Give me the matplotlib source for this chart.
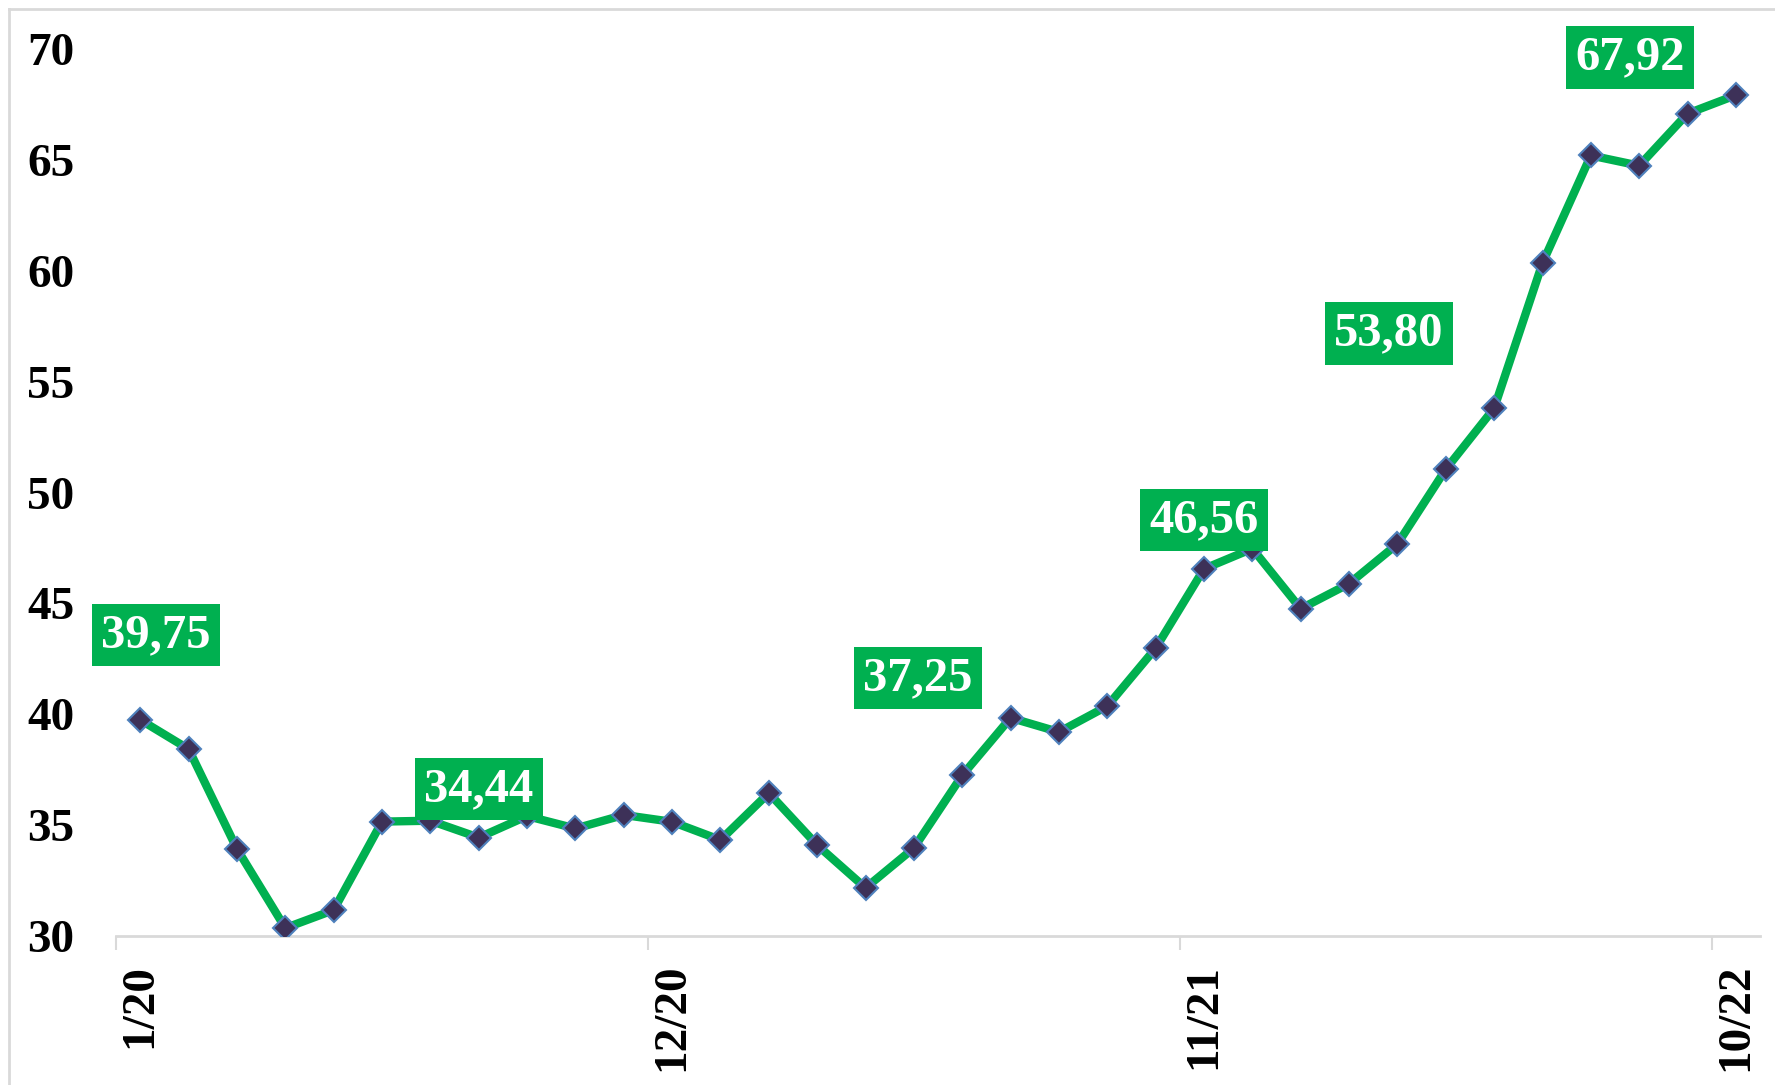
import matplotlib.pyplot as plt
from matplotlib.lines import Line2D

# Monthly values, 1/20 .. 10/22
values = [39.75, 38.43, 33.93, 30.36, 31.17, 35.16, 35.20, 34.44, 35.41, 34.85,
          35.46, 35.15, 34.33, 36.45, 34.10, 32.17, 33.97, 37.25, 39.84, 39.20,
          40.37, 42.98, 46.56, 47.47, 44.76, 45.89, 47.68, 51.05, 53.80, 60.35,
          65.20, 64.74, 67.09, 67.92]
tick_labels = ["1/20", "12/20", "11/21", "10/22"]
tick_idx = [0, 11, 22, 33]

# Labelled points: index -> label text
label_idx = [0, 7, 17, 22, 28, 33]
label_text = ["39,75", "34,44", "37,25", "46,56", "53,80", "67,92"]
label_offset = [(11, 61), (0, 35), (-32, 70), (0, 35), (-76, 54), (-76, 27)]

green = "#00B050"
grey = "#D9D9D9"
serif = ["Liberation Serif", "DejaVu Serif"]

fig = plt.figure(figsize=(17.75, 10.85), dpi=100)
ax = fig.add_axes([0.0654, 0.1373, 0.9262, 0.8175])

x = list(range(len(values)))
ax.plot(x, values, color=green, lw=6, marker="D", ms=12,
        markerfacecolor="#3D3158", markeredgecolor="#4F81BD", markeredgewidth=1.5,
        zorder=3)

for i, txt, off in zip(label_idx, label_text, label_offset):
    ax.annotate(txt, xy=(i, values[i]), xytext=off, textcoords="offset points",
                ha="center", va="center", color="white", fontsize=35,
                fontweight="bold", family=serif, zorder=5,
                bbox=dict(boxstyle="square,pad=0.19", fc=green, ec="none"))

ax.set_xlim(-0.5, len(values) - 0.5)
ax.set_ylim(30, 70)
ax.set_yticks(range(30, 71, 5))

# tick marks between categories, labels on categories
ax.set_xticks([i - 0.5 for i in tick_idx[1:]] + [-0.5])
ax.set_xticklabels([])
ax.tick_params(axis="x", which="major", length=10, width=1.5, color=grey)
ax.set_xticks(tick_idx, minor=True)
ax.set_xticklabels(tick_labels, minor=True, rotation=90, fontsize=34,
                   fontweight="bold", family=serif)
ax.tick_params(axis="x", which="minor", length=0, pad=20)

ax.tick_params(axis="y", length=0, pad=30)
for lab in ax.get_yticklabels():
    lab.set_fontsize(34)
    lab.set_fontweight("bold")
    lab.set_family(serif)

for s in ["top", "right", "left"]:
    ax.spines[s].set_visible(False)
ax.spines["bottom"].set_color(grey)
ax.spines["bottom"].set_linewidth(2)

# light frame around the chart area (top and left edges visible)
fig.add_artist(Line2D([0.0050, 1], [0.9917, 0.9917], color=grey, lw=2,
                      transform=fig.transFigure))
fig.add_artist(Line2D([0.0050, 0.0050], [0, 0.9917], color=grey, lw=2,
                      transform=fig.transFigure))

plt.savefig("out.png", dpi=100)
